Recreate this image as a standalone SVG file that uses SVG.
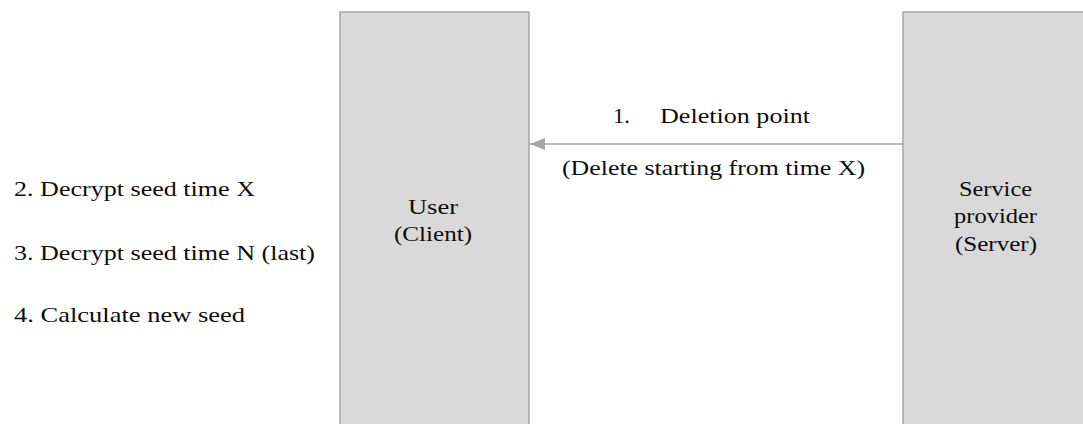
<svg xmlns="http://www.w3.org/2000/svg" width="1083" height="424" viewBox="0 0 1083 424">
  <defs>
    <style>
      .actor { fill: #d9d9d9; stroke: #a6a6a6; stroke-width: 1.5; }
      .label { font-family: "Liberation Serif", "Times New Roman", serif; font-size: 22px; fill: #0d0d0d; }
      .link { stroke: #a6a6a6; stroke-width: 1.5; fill: none; }
    </style>
    <marker id="arrowhead" viewBox="0 0 15 12" refX="15" refY="6" markerWidth="15" markerHeight="12" markerUnits="userSpaceOnUse" orient="auto">
      <path d="M0,0 L15,6 L0,12 Z" fill="#a6a6a6"/>
    </marker>
  </defs>

  <rect width="1083" height="424" fill="#ffffff"/>

  <!-- Client lifeline box -->
  <g id="user">
    <rect class="actor" x="340" y="12" width="189" height="420"/>
    <text class="label" x="408" y="214" textLength="50" lengthAdjust="spacingAndGlyphs">User</text>
    <text class="label" x="394" y="241" textLength="78" lengthAdjust="spacingAndGlyphs">(Client)</text>
  </g>

  <!-- Server lifeline box -->
  <g id="server">
    <rect class="actor" x="903" y="12" width="200" height="420"/>
    <text class="label" x="959" y="196" textLength="73" lengthAdjust="spacingAndGlyphs">Service</text>
    <text class="label" x="954" y="223" textLength="83" lengthAdjust="spacingAndGlyphs">provider</text>
    <text class="label" x="955" y="251" textLength="82" lengthAdjust="spacingAndGlyphs">(Server)</text>
  </g>

  <!-- Client-side steps -->
  <g id="client-steps">
    <text class="label" x="14" y="196" textLength="241" lengthAdjust="spacingAndGlyphs">2. Decrypt seed time X</text>
    <text class="label" x="14" y="260" textLength="301" lengthAdjust="spacingAndGlyphs">3. Decrypt seed time N (last)</text>
    <text class="label" x="14" y="322" textLength="231" lengthAdjust="spacingAndGlyphs">4. Calculate new seed</text>
  </g>

  <!-- Message from server to client -->
  <g id="connectors">
    <line class="link" x1="903" y1="144" x2="530" y2="144" marker-end="url(#arrowhead)"/>
    <text class="label" x="613" y="123" textLength="17" lengthAdjust="spacingAndGlyphs">1.</text>
    <text class="label" x="660" y="123" textLength="150" lengthAdjust="spacingAndGlyphs">Deletion point</text>
    <text class="label" x="562" y="175" textLength="303" lengthAdjust="spacingAndGlyphs">(Delete  starting from  time  X)</text>
  </g>
</svg>
